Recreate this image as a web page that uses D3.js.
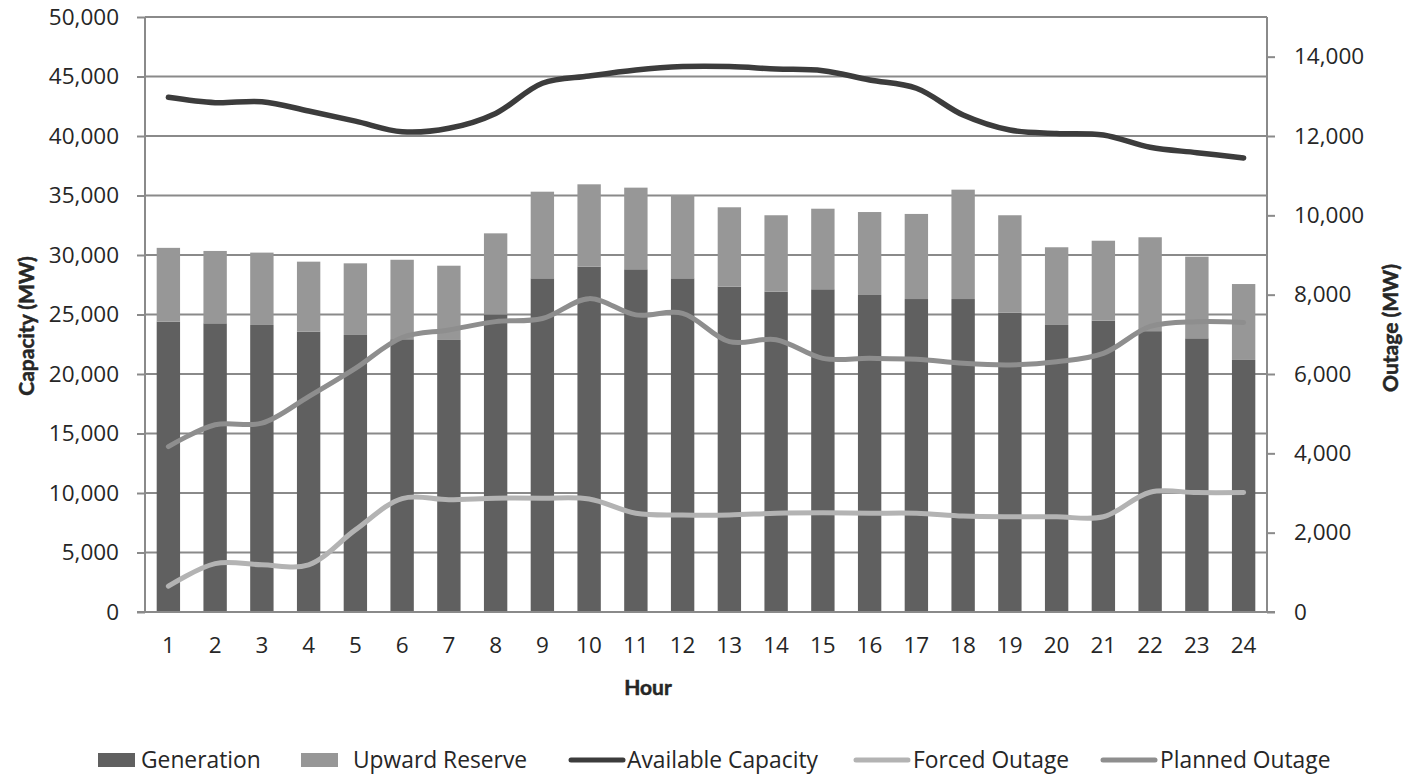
<!DOCTYPE html>
<html>
<head>
<meta charset="utf-8">
<script src="https://cdn.jsdelivr.net/npm/d3@7/dist/d3.min.js"></script>
<style>
  html, body { margin: 0; padding: 0; background: #ffffff; }
  svg { display: block; }
  text { font-family: "Open Sans", "Noto Sans", sans-serif; fill: #262626; }
  .title { font-family: Lato, "Open Sans", sans-serif; font-weight: bold; font-size: 21px;
           stroke: #262626; stroke-width: 0.5px; }
</style>
</head>
<body>
<svg id="chart" width="1411" height="776"></svg>
<script>
// Hourly capacity profile (MW)
const hours = [1, 2, 3, 4, 5, 6, 7, 8, 9, 10, 11, 12, 13, 14, 15, 16, 17, 18, 19, 20, 21, 22, 23, 24];

const generation = [24400, 24260, 24120, 23560, 23280, 22920, 22860, 25000, 28040, 29020, 28800, 28040,
                    27340, 26920, 27120, 26640, 26300, 26300, 25150, 24120, 24480, 23600, 23000, 21180];

// Stacked on top of generation; total = generation + reserve
const capacityTotal = [30600, 30340, 30200, 29440, 29300, 29600, 29100, 31820, 35320, 35940, 35660, 35040,
                       34010, 33340, 33890, 33610, 33450, 35490, 33340, 30650, 31200, 31490, 29860, 27560];
const upwardReserve = capacityTotal.map((t, i) => t - generation[i]);

const availableCapacity = [43250, 42800, 42880, 42100, 41250, 40360, 40650, 41900, 44430, 45040, 45550, 45830,
                           45830, 45630, 45490, 44710, 44010, 41760, 40500, 40220, 40080, 39050, 38600, 38150];

// Outages on the secondary axis (MW)
const forcedOutage = [650, 1220, 1190, 1190, 2070, 2860, 2830, 2870, 2870, 2850, 2490, 2445,
                      2445, 2490, 2500, 2490, 2490, 2420, 2400, 2400, 2400, 3020, 3010, 3010];
const plannedOutage = [4170, 4720, 4760, 5430, 6140, 6920, 7110, 7320, 7400, 7900, 7490, 7530,
                       6815, 6865, 6395, 6395, 6370, 6270, 6230, 6310, 6520, 7200, 7320, 7300];

const leftTicks = [0, 5000, 10000, 15000, 20000, 25000, 30000, 35000, 40000, 45000, 50000];
const rightTicks = [0, 2000, 4000, 6000, 8000, 10000, 12000, 14000];

const colors = {
  generation: "#606060",
  reserve: "#979797",
  available: "#3c3c3c",
  forced: "#b3b3b3",
  planned: "#8e8e8e",
  grid: "#8a8a8a"
};

const svg = d3.select("#chart");
const plot = { left: 145, right: 1267, top: 17, bottom: 612 };

const x = d3.scaleBand().domain(hours).range([plot.left, plot.right])
  .paddingInner(0.5).paddingOuter(0.25);
const yL = d3.scaleLinear().domain([0, 50000]).range([plot.bottom, plot.top]);
const yR = d3.scaleLinear().domain([0, 15000]).range([plot.bottom, plot.top]);
const fmt = d3.format(",");

// Horizontal gridlines from the primary axis
svg.append("g").selectAll("line").data(leftTicks.slice(1)).join("line")
  .attr("x1", plot.left).attr("x2", plot.right)
  .attr("y1", d => yL(d)).attr("y2", d => yL(d))
  .attr("stroke", colors.grid).attr("stroke-width", 2);

// Primary axis
const gL = svg.append("g").attr("transform", `translate(${plot.left},0)`)
  .call(d3.axisLeft(yL).tickValues(leftTicks).tickFormat(fmt).tickSize(8).tickPadding(18));
gL.select(".domain").remove();
gL.selectAll(".tick line").attr("stroke", colors.grid).attr("stroke-width", 2);
gL.selectAll(".tick text").style("font-size", "22.5px").attr("fill", "#262626");

// Secondary axis
const gR = svg.append("g").attr("transform", `translate(${plot.right},0)`)
  .call(d3.axisRight(yR).tickValues(rightTicks).tickFormat(fmt).tickSize(8).tickPadding(19));
gR.select(".domain").remove();
gR.selectAll(".tick line").attr("stroke", colors.grid).attr("stroke-width", 2);
gR.selectAll(".tick text").style("font-size", "22.5px").attr("fill", "#262626");

// Stacked bars
const bars = svg.append("g");
bars.selectAll("rect.gen").data(hours).join("rect").attr("class", "gen")
  .attr("x", d => x(d)).attr("width", x.bandwidth())
  .attr("y", (d, i) => yL(generation[i]))
  .attr("height", (d, i) => yL(0) - yL(generation[i]))
  .attr("fill", colors.generation);
bars.selectAll("rect.res").data(hours).join("rect").attr("class", "res")
  .attr("x", d => x(d)).attr("width", x.bandwidth())
  .attr("y", (d, i) => yL(generation[i] + upwardReserve[i]))
  .attr("height", (d, i) => yL(generation[i]) - yL(generation[i] + upwardReserve[i]))
  .attr("fill", colors.reserve);

// Frame: vertical axis lines and baseline
svg.append("line").attr("x1", plot.left).attr("x2", plot.left)
  .attr("y1", plot.top).attr("y2", plot.bottom).attr("stroke", colors.grid).attr("stroke-width", 2);
svg.append("line").attr("x1", plot.right).attr("x2", plot.right)
  .attr("y1", plot.top).attr("y2", plot.bottom).attr("stroke", colors.grid).attr("stroke-width", 2);
svg.append("line").attr("x1", plot.left - 8).attr("x2", plot.right + 8)
  .attr("y1", plot.bottom).attr("y2", plot.bottom).attr("stroke", colors.grid).attr("stroke-width", 2);

// Smoothed lines
const cx = d => x(d) + x.bandwidth() / 2;
function drawLine(values, scale, color, width) {
  const line = d3.line().x((d, i) => cx(hours[i])).y(d => scale(d)).curve(d3.curveCatmullRom.alpha(0.5));
  svg.append("path").datum(values).attr("d", line)
    .attr("fill", "none").attr("stroke", color).attr("stroke-width", width)
    .attr("stroke-linecap", "round").attr("stroke-linejoin", "round");
}
drawLine(forcedOutage, yR, colors.forced, 5);
drawLine(plannedOutage, yR, colors.planned, 5);
drawLine(availableCapacity, yL, colors.available, 5.5);

// Category labels
svg.append("g").selectAll("text").data(hours).join("text")
  .attr("x", d => cx(d)).attr("y", 653)
  .attr("text-anchor", "middle").style("font-size", "22.5px")
  .text(d => d);

// Axis titles
svg.append("text").attr("class", "title").attr("x", 648).attr("y", 695).attr("text-anchor", "middle")
  .text("Hour");
svg.append("text").attr("class", "title").attr("transform", "translate(34,326) rotate(-90)")
  .attr("text-anchor", "middle").text("Capacity (MW)");
svg.append("text").attr("class", "title").attr("transform", "translate(1398,328) rotate(-90)")
  .attr("text-anchor", "middle").text("Outage (MW)");

// Legend
const legendItems = [
  { label: "Generation", type: "rect", color: colors.generation, x: 98, tx: 141 },
  { label: "Upward Reserve", type: "rect", color: colors.reserve, x: 301, tx: 353 },
  { label: "Available Capacity", type: "line", color: colors.available, x: 571, tx: 627 },
  { label: "Forced Outage", type: "line", color: colors.forced, x: 856, tx: 913 },
  { label: "Planned Outage", type: "line", color: colors.planned, x: 1103, tx: 1160 }
];
const legend = svg.append("g");
const ly = 760;
legendItems.forEach(item => {
  const g = legend.append("g");
  if (item.type === "rect") {
    g.append("rect").attr("x", item.x).attr("y", ly - 7).attr("width", 37).attr("height", 14).attr("fill", item.color);
  } else {
    g.append("line").attr("x1", item.x).attr("x2", item.x + 52).attr("y1", ly).attr("y2", ly)
      .attr("stroke", item.color).attr("stroke-width", 5).attr("stroke-linecap", "round");
  }
  g.append("text").attr("x", item.tx).attr("y", ly + 8).style("font-size", "22.8px").text(item.label);
});
</script>
</body>
</html>
